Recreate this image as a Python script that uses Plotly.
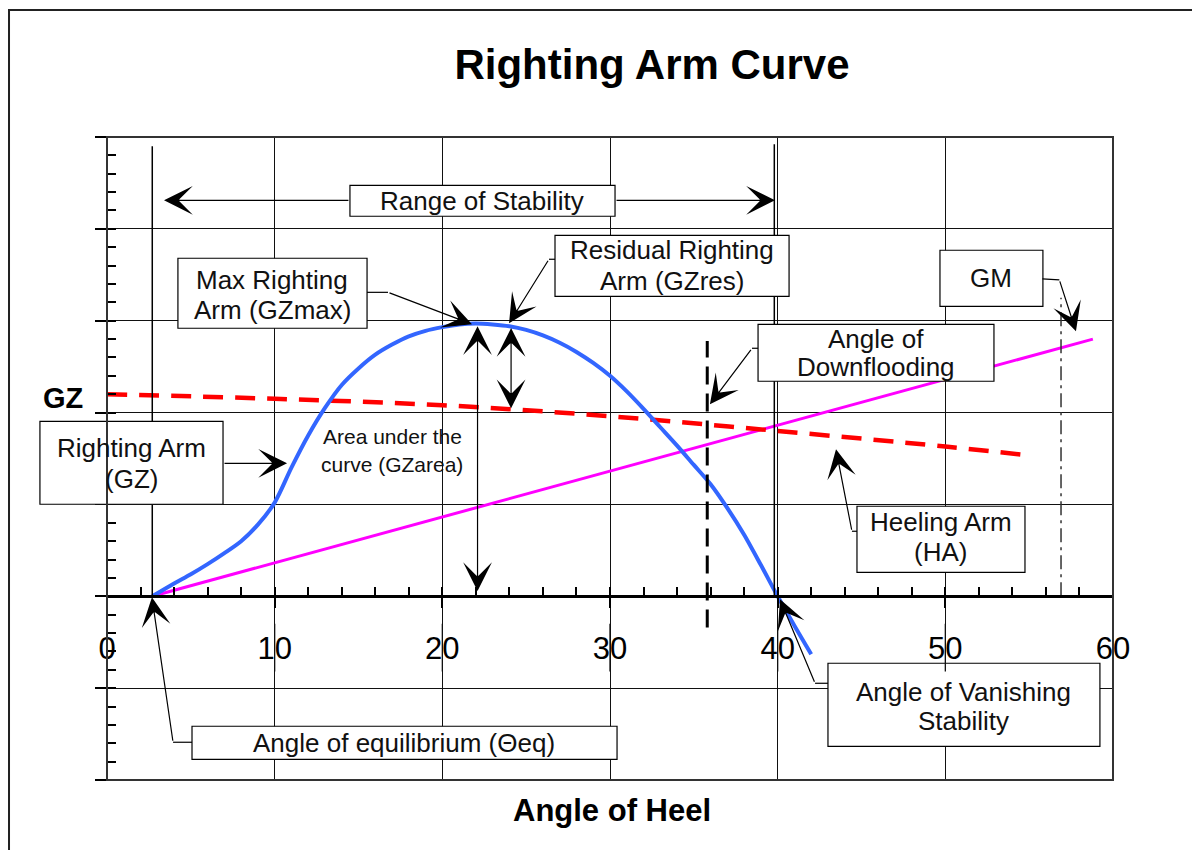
import plotly.graph_objects as go

# ---------------- data ----------------
heel_deg = [2.7, 4, 5, 6, 7, 8, 9, 10, 11, 12, 13, 14, 15, 16, 17, 18, 19, 20,
            21, 22, 23, 24, 25, 26, 27, 28, 29, 30, 31, 32, 33, 34, 35, 36, 37, 38,
            39, 40, 41, 42]
righting_arm_gz = [0.00, 0.14, 0.24, 0.35, 0.47, 0.60, 0.78, 1.02, 1.40, 1.75,
                   2.05, 2.30, 2.48, 2.63, 2.74, 2.83, 2.89, 2.93, 2.96, 2.97, 2.96,
                   2.94, 2.90, 2.84, 2.76, 2.66, 2.54, 2.40, 2.23, 2.04, 1.84, 1.64,
                   1.43, 1.22, 0.96, 0.67, 0.34, 0.00, -0.32, -0.63]
heeling_deg = [0, 10, 20, 30, 40, 50, 55.2]
heeling_arm_ha = [2.20, 2.15, 2.08, 1.96, 1.80, 1.63, 1.53]
gm_line_deg = [2.7, 58.8]
gm_line_arm = [0.0, 2.80]

theta_eq = 2.7
theta_vanish = 39.8
theta_downflood = 35.8
theta_one_radian = 56.9
gz_max_deg = 22.1
gz_res_deg = 24.1

x_tick_vals = [0, 10, 20, 30, 40, 50, 60]
x_tick_text = ["0", "10", "20", "30", "40", "50", "60"]

# ---------------- styling ----------------
FONT = "Liberation Sans, Arial, Helvetica, sans-serif"
X_RANGE = [0, 60]
Y_RANGE = [-2, 5]
TXT = "#111111"


def px_x(v):
    return (v - X_RANGE[0]) / (X_RANGE[1] - X_RANGE[0])


def px_y(v):
    return (v - Y_RANGE[0]) / (Y_RANGE[1] - Y_RANGE[0])


fig = go.Figure()

# GM line (magenta)
fig.add_trace(go.Scatter(x=gm_line_deg, y=gm_line_arm, mode="lines",
                         line=dict(color="#ff00ff", width=3)))
# Heeling arm (red dashed)
fig.add_trace(go.Scatter(x=heeling_deg, y=heeling_arm_ha, mode="lines",
                         line=dict(color="#ff0000", width=4.5, dash="20px,12px",
                                   shape="spline")))
# Righting arm curve (blue)
fig.add_trace(go.Scatter(x=heel_deg, y=righting_arm_gz, mode="lines",
                         line=dict(color="#3366ff", width=4, shape="spline",
                                   smoothing=0.8)))
# vertical reference lines
fig.add_trace(go.Scatter(x=[theta_eq, theta_eq], y=[0, 4.90], mode="lines",
                         line=dict(color="black", width=1.5)))
fig.add_trace(go.Scatter(x=[theta_vanish, theta_vanish], y=[0, 4.92], mode="lines",
                         line=dict(color="black", width=1.5)))
fig.add_trace(go.Scatter(x=[theta_downflood, theta_downflood], y=[-0.34, 2.78],
                         mode="lines",
                         line=dict(color="black", width=3, dash="18px,9px")))
fig.add_trace(go.Scatter(x=[theta_one_radian, theta_one_radian], y=[0, 3.25],
                         mode="lines",
                         line=dict(color="#333333", width=1.5,
                                   dash="14px,5px,3px,5px")))

shapes = []
# text boxes (x0, x1, y0, y1 in data units) -> paper refs so they are not clipped
boxes = [
    (14.49, 30.30, 4.137, 4.474),   # Range of Stability
    (4.23, 15.51, 2.918, 3.680),    # Max Righting Arm
    (26.72, 40.68, 3.266, 3.930),   # Residual Righting Arm
    (49.68, 55.82, 3.157, 3.767),   # GM
    (38.83, 52.90, 2.341, 2.961),   # Angle of Downflooding
    (-4.00, 6.92, 1.002, 1.905),    # Righting Arm (GZ)
    (44.73, 54.75, 0.261, 0.980),   # Heeling Arm
    (43.00, 59.22, -1.633, -0.729), # Angle of Vanishing Stability
    (5.07, 30.42, -1.775, -1.415),  # Angle of equilibrium
]
for x0, x1, y0, y1 in boxes:
    shapes.append(dict(type="rect", xref="paper", yref="paper",
                       x0=px_x(x0), x1=px_x(x1), y0=px_y(y0), y1=px_y(y1),
                       line=dict(color="black", width=1.2), fillcolor="white",
                       layer="above"))

# leader line segments before the arrows
leaders = [
    ((15.51, 3.309), (16.76, 3.309)),
    ((26.72, 3.669), (26.36, 3.669)),
    ((55.79, 3.456), (56.80, 3.445)),
    ((38.83, 2.70), (38.47, 2.70)),
    ((44.73, 0.708), (44.43, 0.708)),
    ((43.00, -0.947), (42.23, -0.947)),
    ((5.07, -1.589), (3.94, -1.589)),
]
for (xa, ya), (xb, yb) in leaders:
    shapes.append(dict(type="line", xref="x", yref="y", x0=xa, y0=ya, x1=xb, y1=yb,
                       line=dict(color="black", width=1.2), layer="above"))

# grid line segments crossing the tick labels
for v in x_tick_vals[1:-1]:
    shapes.append(dict(type="line", xref="x", yref="y", x0=v, x1=v, y0=-0.30,
                       y1=-0.82, line=dict(color="#111111", width=1.3),
                       layer="above"))

# plot frame and outer border
shapes.append(dict(type="rect", xref="paper", yref="paper", x0=0, x1=1, y0=0, y1=1,
                   line=dict(color="#333333", width=2), layer="above"))
shapes.append(dict(type="rect", xref="paper", yref="paper", x0=-0.0974, x1=1.12,
                   y0=-0.15, y1=1.1975, line=dict(color="#222222", width=2),
                   layer="above"))

annotations = []
# box text lines (x, y, text)
text_lines = [
    (22.39, 4.306, "Range of Stability"),
    (9.87, 3.440, "Max Righting"),
    (9.87, 3.114, "Arm (GZmax)"),
    (33.70, 3.767, "Residual Righting"),
    (33.70, 3.434, "Arm (GZres)"),
    (52.75, 3.462, "GM"),
    (45.86, 2.798, "Angle of"),
    (45.86, 2.493, "Downflooding"),
    (1.46, 1.611, "Righting Arm"),
    (1.46, 1.274, "(GZ)"),
    (49.74, 0.806, "Heeling Arm"),
    (49.74, 0.479, "(HA)"),
    (51.11, -1.045, "Angle of Vanishing"),
    (51.11, -1.361, "Stability"),
    (17.74, -1.600, "Angle of equilibrium (Θeq)"),
]
for x, y, t in text_lines:
    annotations.append(dict(x=x, y=y, xref="x", yref="y", text=t, showarrow=False,
                            xanchor="center", yanchor="middle",
                            font=dict(family=FONT, size=26, color=TXT)))
annotations.append(dict(x=17.0, y=1.742, xref="x", yref="y", text="Area under the",
                        showarrow=False, font=dict(family=FONT, size=21, color=TXT)))
annotations.append(dict(x=17.0, y=1.437, xref="x", yref="y", text="curve (GZarea)",
                        showarrow=False, font=dict(family=FONT, size=21, color=TXT)))

# arrows: (tip_x, tip_y, tail_x, tail_y, double_headed)
arrows = [
    (3.40, 4.311, 14.49, 4.311, False),
    (39.84, 4.311, 30.30, 4.311, False),
    (21.77, 2.961, 16.76, 3.309, False),
    (23.98, 2.972, 26.36, 3.669, False),
    (57.79, 2.885, 56.80, 3.445, False),
    (35.96, 2.09, 38.47, 2.70, False),
    (10.74, 1.448, 6.92, 1.448, False),
    (43.48, 1.60, 44.43, 0.708, False),
    (40.14, -0.033, 42.23, -0.947, False),
    (2.68, -0.011, 3.94, -1.589, False),
    (gz_max_deg, 2.94, gz_max_deg, 0.04, True),
    (gz_res_deg, 2.92, gz_res_deg, 2.03, True),
]
for tx, ty, sx, sy, dbl in arrows:
    annotations.append(dict(x=tx, y=ty, ax=sx, ay=sy, xref="x", yref="y",
                            axref="x", ayref="y", text="", showarrow=True,
                            arrowhead=3, arrowsize=4.0, arrowwidth=1.2,
                            arrowcolor="black", standoff=0, startstandoff=0,
                            arrowside="end+start" if dbl else "end",
                            startarrowhead=3, startarrowsize=4.0))

annotations.append(dict(x=-0.0437, y=2.155, xref="paper", yref="y", text="<b>GZ</b>",
                        showarrow=False, xanchor="center", yanchor="middle",
                        font=dict(family=FONT, size=29, color="black")))
annotations.append(dict(x=0.502, y=-0.0467, xref="paper", yref="paper",
                        text="<b>Angle of Heel</b>", showarrow=False,
                        xanchor="center", yanchor="middle",
                        font=dict(family=FONT, size=31, color="black")))

fig.update_layout(
    width=1200, height=850,
    margin=dict(l=99, r=95, t=129, b=78),
    paper_bgcolor="white", plot_bgcolor="white",
    showlegend=False,
    title=dict(text="<b>Righting Arm Curve</b>", x=644 / 1200, xref="container",
               y=1 - 56 / 850, yref="container", xanchor="center", yanchor="middle",
               font=dict(family=FONT, size=42, color="black")),
    xaxis=dict(range=X_RANGE, tickmode="array", tickvals=x_tick_vals,
               ticktext=x_tick_text, showgrid=True, gridcolor="#111111",
               gridwidth=1.3, anchor="free", position=px_y(0), showline=True,
               linecolor="black", linewidth=3, ticks="outside", ticklen=10,
               tickwidth=2, tickcolor="black", zeroline=False,
               ticklabelstandoff=14,
               tickfont=dict(family=FONT, size=31, color="black"),
               minor=dict(tickmode="linear", tick0=0, dtick=2, ticks="inside",
                          ticklen=8, tickwidth=2, tickcolor="black", showgrid=False)),
    yaxis=dict(range=Y_RANGE, tickmode="linear", tick0=0, dtick=1, showgrid=True,
               gridcolor="#111111", gridwidth=1.3, anchor="free", position=0,
               showline=True, linecolor="black", linewidth=2, ticks="outside",
               ticklen=11, tickwidth=1.5, tickcolor="black", showticklabels=False,
               zeroline=False,
               minor=dict(tickmode="linear", tick0=0, dtick=0.2, ticks="inside",
                          ticklen=8, tickwidth=1.5, tickcolor="black",
                          showgrid=False)),
    shapes=shapes,
    annotations=annotations,
)

fig.write_html("out.html")
